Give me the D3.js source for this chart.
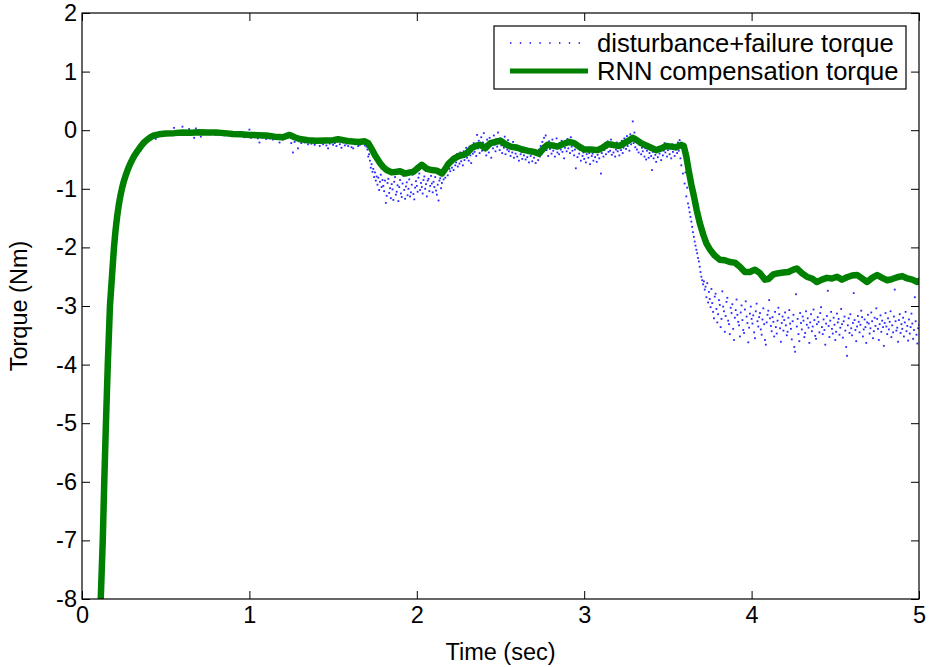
<!DOCTYPE html>
<html><head><meta charset="utf-8">
<script src="https://cdn.jsdelivr.net/npm/d3@7"></script>
<style>body{margin:0;background:#fff} text{font-family:"Liberation Sans",Arial,Helvetica,sans-serif;fill:#000}</style>
</head><body><svg id="c" width="930" height="667"></svg>
<script>
// ---------- data ----------
const xTicks = [0, 1, 2, 3, 4, 5];
const yTicks = [2, 1, 0, -1, -2, -3, -4, -5, -6, -7, -8];
const xLabel = "Time (sec)";
const yLabel = "Torque (Nm)";
const seriesNames = ["disturbance+failure torque", "RNN compensation torque"];

// RNN compensation torque (time, value)
const greenT = [0.112,0.124,0.133,0.143,0.154,0.167,0.191,0.20,0.21,0.22,0.23,0.24,0.25,0.26,0.275,0.29,0.31,0.33,0.35,0.37,0.39,0.41,0.43,0.46,0.50,0.55,0.60,0.65,0.70,0.75,0.80,0.85,0.90,0.95,1.00,1.05,1.10,1.15,1.20,1.24,1.27,1.30,1.35,1.40,1.45,1.50,1.53,1.56,1.60,1.65,1.69,1.71,1.73,1.755,1.78,1.80,1.82,1.85,1.88,1.90,1.93,1.96,1.98,2.00,2.03,2.06,2.09,2.12,2.15,2.17,2.19,2.22,2.25,2.28,2.30,2.33,2.36,2.38,2.41,2.44,2.47,2.50,2.53,2.56,2.60,2.63,2.66,2.70,2.73,2.76,2.78,2.81,2.84,2.87,2.91,2.94,2.97,3.00,3.04,3.08,3.11,3.14,3.17,3.21,3.24,3.27,3.29,3.31,3.34,3.37,3.40,3.43,3.46,3.49,3.52,3.55,3.58,3.595,3.61,3.625,3.64,3.655,3.672,3.69,3.711,3.73,3.752,3.78,3.81,3.84,3.87,3.90,3.93,3.96,3.99,4.02,4.05,4.08,4.10,4.13,4.16,4.19,4.22,4.25,4.27,4.30,4.33,4.36,4.39,4.42,4.45,4.48,4.51,4.54,4.57,4.60,4.63,4.66,4.69,4.72,4.75,4.78,4.81,4.84,4.87,4.90,4.93,4.96,4.99,5.00];
const greenV = [-8.0,-7.0,-6.0,-5.0,-4.0,-3.0,-2.0,-1.72,-1.47,-1.27,-1.11,-0.98,-0.87,-0.78,-0.66,-0.56,-0.45,-0.36,-0.28,-0.21,-0.16,-0.12,-0.09,-0.07,-0.055,-0.05,-0.04,-0.045,-0.035,-0.04,-0.04,-0.05,-0.065,-0.07,-0.08,-0.085,-0.09,-0.11,-0.12,-0.08,-0.12,-0.15,-0.17,-0.18,-0.175,-0.17,-0.155,-0.17,-0.19,-0.2,-0.19,-0.22,-0.32,-0.45,-0.56,-0.63,-0.68,-0.72,-0.71,-0.70,-0.74,-0.72,-0.71,-0.66,-0.59,-0.66,-0.68,-0.69,-0.74,-0.66,-0.57,-0.49,-0.44,-0.42,-0.39,-0.30,-0.26,-0.25,-0.31,-0.22,-0.20,-0.18,-0.24,-0.28,-0.30,-0.33,-0.35,-0.37,-0.40,-0.30,-0.25,-0.26,-0.28,-0.24,-0.20,-0.22,-0.28,-0.33,-0.33,-0.34,-0.30,-0.24,-0.25,-0.27,-0.22,-0.17,-0.13,-0.16,-0.22,-0.26,-0.30,-0.34,-0.31,-0.27,-0.28,-0.29,-0.25,-0.27,-0.45,-0.70,-0.93,-1.12,-1.36,-1.58,-1.78,-1.93,-2.04,-2.14,-2.21,-2.22,-2.25,-2.26,-2.33,-2.42,-2.42,-2.38,-2.44,-2.55,-2.54,-2.46,-2.44,-2.43,-2.42,-2.38,-2.36,-2.44,-2.50,-2.53,-2.59,-2.55,-2.52,-2.53,-2.50,-2.55,-2.51,-2.48,-2.47,-2.53,-2.59,-2.52,-2.47,-2.52,-2.56,-2.54,-2.51,-2.49,-2.53,-2.55,-2.59,-2.57];

// disturbance+failure torque, part A: t = 0.12 .. 1.69, every 0.01 s
const distAStart = 0.12, distAStep = 0.01;
const distA = [
-7.4,-6.4,-5.3,-4.4,-3.5,-2.85,-2.35,-2.05,-1.8,-1.55,
-1.34,-1.15,-1.0,-0.9,-0.82,-0.76,-0.69,-0.63,-0.58,-0.52,
-0.47,-0.42,-0.38,-0.35,-0.31,-0.27,-0.23,-0.2,-0.17,-0.15,
-0.13,-0.11,-0.15,-0.09,-0.08,-0.07,-0.06,-0.05,-0.07,-0.04,
-0.06,-0.05,-0.03,0.04,-0.06,-0.05,-0.04,-0.03,0.06,-0.02,
-0.05,-0.08,0.02,-0.06,-0.04,-0.13,0.03,-0.05,-0.03,-0.11,
-0.06,-0.04,-0.02,-0.05,-0.07,-0.03,-0.06,-0.04,-0.08,-0.05,
-0.06,-0.07,-0.05,-0.09,-0.06,-0.08,-0.07,-0.10,-0.08,-0.07,
-0.09,-0.08,-0.10,-0.07,-0.09,-0.12,-0.11,-0.08,0.01,-0.13,
-0.10,-0.12,-0.09,-0.14,-0.21,-0.11,-0.13,-0.10,-0.15,-0.12,
-0.14,-0.11,-0.16,-0.13,-0.12,-0.15,-0.21,-0.13,-0.16,-0.10,
-0.07,-0.06,-0.12,-0.22,-0.38,-0.20,-0.17,-0.31,-0.19,-0.22,
-0.18,-0.21,-0.19,-0.24,-0.20,-0.23,-0.21,-0.25,-0.22,-0.20,
-0.27,-0.22,-0.24,-0.21,-0.26,-0.31,-0.23,-0.20,-0.25,-0.22,
-0.27,-0.19,-0.24,-0.30,-0.21,-0.26,-0.23,-0.27,-0.22,-0.29,
-0.31,-0.24,-0.22,-0.27,-0.25,-0.23,-0.21,-0.26];

// disturbance+failure torque, part B: t = 1.70 .. 5.00, every 0.005 s
const distBStart = 1.70, distBStep = 0.005;
const distB = [
-0.28,-0.33,-0.45,-0.41,-0.52,-0.64,-0.58,-0.71,-0.66,-0.80,
-0.72,-0.86,-0.79,-0.93,-0.81,-1.02,-0.88,-0.76,-0.97,-0.85,
-0.95,-1.04,-0.86,-1.24,-1.12,-0.90,-0.83,-1.07,-0.99,-1.16,
-0.92,-1.01,-1.19,-0.88,-0.80,-1.10,-1.05,-0.94,-1.21,-0.97,
-0.85,-1.08,-1.14,-0.91,-0.78,-1.02,-1.17,-0.96,-0.89,-1.11,
-1.00,-0.84,-1.13,-1.06,-0.93,-0.76,-1.09,-1.18,-0.98,-0.87,
-0.95,-1.05,-0.81,-0.74,-1.02,-0.90,-0.97,-1.08,-0.85,-0.79,
-1.00,-0.92,-1.13,-0.86,-0.83,-1.04,-0.95,-0.78,-0.91,-1.06,
-0.88,-0.97,-0.80,-1.03,-1.10,-0.93,-1.20,-0.86,-0.82,-0.99,
-0.90,-0.76,-0.84,-0.72,-0.81,-0.68,-0.63,-0.77,-0.60,-0.66,
-0.70,-0.52,-0.64,-0.49,-0.68,-0.45,-0.60,-0.55,-0.41,-0.62,
-0.48,-0.57,-0.38,-0.53,-0.44,-0.60,-0.36,-0.51,-0.42,-0.30,
-0.47,-0.35,-0.52,-0.28,-0.43,-0.56,-0.33,-0.40,-0.22,-0.37,
-0.26,-0.44,-0.08,-0.31,-0.18,-0.39,-0.27,-0.12,-0.35,-0.21,
-0.05,-0.33,-0.24,-0.43,-0.16,-0.29,-0.38,-0.13,-0.27,-0.47,
-0.19,-0.31,-0.09,-0.25,-0.36,-0.15,-0.28,-0.04,-0.22,-0.34,
-0.14,-0.26,-0.39,-0.18,-0.30,-0.11,-0.41,-0.23,-0.33,-0.17,
-0.36,-0.25,-0.44,-0.29,-0.38,-0.20,-0.47,-0.31,-0.40,-0.26,
-0.45,-0.33,-0.52,-0.28,-0.41,-0.37,-0.49,-0.30,-0.43,-0.36,
-0.50,-0.34,-0.46,-0.39,-0.55,-0.32,-0.44,-0.40,-0.53,-0.37,
-0.47,-0.35,-0.56,-0.42,-0.38,-0.51,-0.33,-0.45,-0.27,-0.41,
-0.20,-0.36,-0.13,-0.30,-0.09,-0.34,-0.24,-0.44,-0.19,-0.32,
-0.26,-0.40,-0.16,-0.35,-0.23,-0.45,-0.29,-0.14,-0.38,-0.27,
-0.41,-0.22,-0.33,-0.18,-0.37,-0.25,-0.48,-0.30,-0.20,-0.36,
-0.15,-0.31,-0.24,-0.39,-0.12,-0.28,-0.35,-0.20,-0.43,-0.33,
-0.65,-0.29,-0.46,-0.25,-0.40,-0.34,-0.52,-0.31,-0.44,-0.38,
-0.49,-0.36,-0.55,-0.41,-0.30,-0.47,-0.39,-0.58,-0.35,-0.44,
-0.40,-0.52,-0.33,-0.46,-0.37,-0.54,-0.42,-0.31,-0.48,-0.36,
-0.74,-0.39,-0.28,-0.45,-0.34,-0.22,-0.41,-0.30,-0.19,-0.37,
-0.27,-0.35,-0.16,-0.42,-0.29,-0.38,-0.24,-0.45,-0.33,-0.21,
-0.36,-0.28,-0.43,-0.25,-0.34,-0.18,-0.39,-0.30,-0.14,-0.26,
-0.32,-0.10,-0.27,-0.19,-0.35,-0.07,-0.24,-0.15,0.15,-0.22,
-0.04,-0.29,-0.13,-0.33,-0.20,-0.38,-0.25,-0.17,-0.41,-0.30,
-0.36,-0.26,-0.45,-0.31,-0.50,-0.35,-0.28,-0.47,-0.39,-0.33,
-0.44,-0.68,-0.37,-0.48,-0.32,-0.42,-0.54,-0.36,-0.46,-0.29,
-0.40,-0.33,-0.51,-0.27,-0.43,-0.35,-0.22,-0.38,-0.30,-0.45,
-0.34,-0.26,-0.41,-0.31,-0.48,-0.24,-0.37,-0.29,-0.44,-0.33,
-0.26,-0.39,-0.21,-0.35,-0.17,-0.48,-0.60,-0.30,-0.74,-0.42,
-0.91,-0.72,-1.13,-0.98,-1.25,-1.32,-1.40,-1.48,-1.56,-1.65,
-1.74,-1.82,-1.90,-1.97,-2.04,-2.10,-2.18,-2.24,-2.33,-2.42,
-2.50,-2.56,-2.63,-2.58,-2.72,-2.67,-2.85,-2.61,-2.94,-2.76,
-2.88,-3.02,-2.71,-2.95,-3.10,-3.21,-2.84,-2.79,-3.05,-3.28,
-3.14,-2.90,-2.98,-3.36,-3.22,-2.75,-3.01,-3.09,-3.44,-3.17,
-2.93,-2.86,-3.25,-3.31,-3.48,-3.03,-3.12,-2.97,-3.39,-3.58,
-3.20,-3.07,-2.89,-3.15,-3.27,-3.33,-3.52,-3.11,-2.99,-3.24,
-3.41,-3.46,-3.06,-2.92,-3.18,-3.29,-3.62,-3.37,-3.13,-3.01,
-3.22,-3.30,-3.16,-3.45,-3.55,-3.09,-2.96,-3.26,-3.35,-3.19,
-3.12,-3.40,-3.49,-3.23,-3.04,-3.31,-3.58,-3.66,-3.28,-3.15,
-3.08,-2.90,-3.21,-3.34,-3.43,-3.19,-3.27,-3.52,-3.10,-3.36,
-3.47,-3.25,-3.03,-3.14,-3.38,-3.61,-3.29,-3.18,-3.42,-3.24,
-3.11,-3.33,-3.50,-3.44,-3.20,-3.07,-3.30,-3.39,-3.57,-3.26,
-3.15,-3.70,-3.78,-2.80,-3.35,-3.22,-3.48,-3.60,-3.12,-3.29,
-3.40,-3.18,-3.25,-3.53,-3.46,-3.09,-3.32,-3.21,-3.37,-3.63,
-3.28,-3.14,-3.43,-3.35,-3.06,-3.24,-3.51,-3.56,-3.31,-3.19,
-3.27,-3.45,-3.12,-3.02,-3.36,-3.48,-3.23,-3.41,-3.66,-3.30,
-3.17,-2.74,-3.34,-3.53,-3.25,-3.10,-3.39,-3.47,-3.20,-3.32,
-3.58,-3.44,-3.13,-3.28,-3.22,-3.49,-3.37,-3.05,-3.31,-3.54,
-3.26,-3.18,-3.42,-3.70,-3.85,-3.33,-3.21,-3.46,-3.14,-3.38,
-3.50,-3.29,-2.78,-3.24,-3.41,-3.60,-3.35,-3.17,-3.27,-3.45,
-3.32,-3.08,-3.19,-3.52,-3.40,-3.23,-3.36,-3.63,-3.28,-3.15,
-3.30,-3.47,-3.38,-3.11,-3.26,-3.55,-3.43,-3.20,-3.34,-3.04,
-3.22,-3.39,-3.58,-3.31,-3.16,-3.44,-3.25,-3.36,-3.68,-3.29,
-3.12,-3.35,-3.48,-3.21,-3.40,-3.27,-3.09,-3.53,-3.33,-3.45,
-3.18,-2.72,-3.26,-3.42,-3.37,-3.61,-3.24,-3.14,-3.46,-3.31,
-3.39,-3.20,-3.52,-3.28,-3.10,-3.43,-3.34,-3.59,-3.23,-3.47,
-3.36,-3.13,-3.30,-3.56,-3.41,-2.85,-3.26,-3.49,-3.64,-3.38,
-3.32];

// ---------- drawing ----------
const svg = d3.select("#c");
const L = 82, R = 919, T = 13, B = 599;
const x = d3.scaleLinear().domain([0, 5]).range([L, R]);
const y = d3.scaleLinear().domain([-8, 2]).range([B, T]);
const fmt = d => String(d);
const FONT = '"Liberation Sans",Arial,sans-serif';

svg.append("defs").append("clipPath").attr("id", "clip")
  .append("rect").attr("x", L).attr("y", T).attr("width", R - L).attr("height", B - T);

const distPts = distA.map((v, i) => [distAStart + i * distAStep, v])
  .concat(distB.map((v, i) => [distBStart + i * distBStep, v]));
const greenPts = greenT.map((t, i) => [t, greenV[i]]);

const plot = svg.append("g").attr("clip-path", "url(#clip)");
plot.selectAll("rect.dot").data(distPts).join("rect")
  .attr("class", "dot")
  .attr("x", d => x(d[0]) - 0.9).attr("y", d => y(d[1]) - 0.9)
  .attr("width", 1.8).attr("height", 1.8)
  .attr("fill", "#0000ff").attr("opacity", 0.85);

plot.append("path").datum(greenPts)
  .attr("d", d3.line().x(d => x(d[0])).y(d => y(d[1])))
  .attr("fill", "none").attr("stroke", "#008000").attr("stroke-width", 6.5)
  .attr("stroke-linejoin", "round").attr("stroke-linecap", "round");

// axes (ticks inward on all four sides)
function styleAxis(g, labels) {
  g.select(".domain").remove();
  g.selectAll(".tick line").attr("stroke", "#000").attr("stroke-width", 1);
  g.selectAll(".tick text").attr("font-size", 23.5).attr("font-family", FONT).attr("fill", "#000");
  if (!labels) g.selectAll(".tick text").remove();
}
svg.append("g").attr("transform", `translate(0,${B})`)
  .call(d3.axisBottom(x).tickValues(xTicks).tickFormat(fmt).tickSizeInner(-8).tickSizeOuter(0).tickPadding(7))
  .call(g => styleAxis(g, true));
svg.append("g").attr("transform", `translate(0,${T})`)
  .call(d3.axisTop(x).tickValues(xTicks).tickSizeInner(-8).tickSizeOuter(0))
  .call(g => styleAxis(g, false));
svg.append("g").attr("transform", `translate(${L},0)`)
  .call(d3.axisLeft(y).tickValues(yTicks).tickFormat(fmt).tickSizeInner(-8).tickSizeOuter(0).tickPadding(5))
  .call(g => styleAxis(g, true));
svg.append("g").attr("transform", `translate(${R},0)`)
  .call(d3.axisRight(y).tickValues(yTicks).tickSizeInner(-8).tickSizeOuter(0))
  .call(g => styleAxis(g, false));

svg.append("rect").attr("x", L).attr("y", T).attr("width", R - L).attr("height", B - T)
  .attr("fill", "none").attr("stroke", "#000").attr("stroke-width", 1.2);

svg.append("text").attr("x", (L + R) / 2).attr("y", 660).attr("text-anchor", "middle")
  .attr("font-size", 23.5).text(xLabel);
svg.append("text").attr("transform", `translate(27,${(T + B) / 2}) rotate(-90)`)
  .attr("text-anchor", "middle").attr("font-size", 23.5).text(yLabel);

// legend
const lg = svg.append("g");
lg.append("rect").attr("x", 494).attr("y", 26).attr("width", 412).attr("height", 63)
  .attr("fill", "#fff").attr("stroke", "#000").attr("stroke-width", 1.2);
const rows = [43, 71];
lg.append("line").attr("x1", 510).attr("x2", 588).attr("y1", rows[0]).attr("y2", rows[0])
  .attr("stroke", "#0000ff").attr("stroke-width", 1.4).attr("stroke-dasharray", "1.4,8.4");
lg.append("line").attr("x1", 510).attr("x2", 588).attr("y1", rows[1]).attr("y2", rows[1])
  .attr("stroke", "#008000").attr("stroke-width", 5);
lg.selectAll("text.lt").data(seriesNames).join("text").attr("class", "lt")
  .attr("x", 597).attr("y", (d, i) => rows[i] + 9).attr("font-size", 25.6).text(d => d);
</script></body></html>
